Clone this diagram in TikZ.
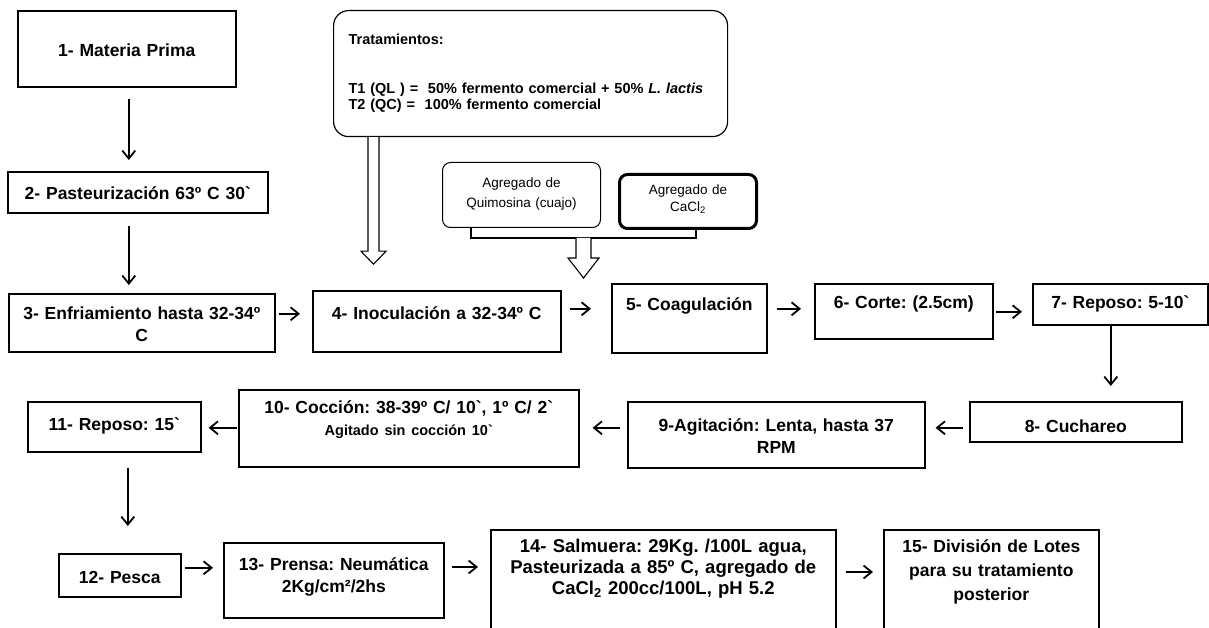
\documentclass[tikz,border=0pt]{standalone}
\usepackage{fontspec}
\setmainfont{Liberation Sans}[Ligatures=TeXOff]
\usepackage{tikz}
\usetikzlibrary{arrows.meta,calc}
\frenchspacing

\begin{document}
\begin{tikzpicture}[x=1pt,y=-1pt,
    paso/.style={draw, line width=1.6pt, inner sep=0pt, anchor=north west, align=center,
        font=\fontsize{17.5}{22}\selectfont\bfseries},
    agregado/.style={draw, rounded corners=8pt, anchor=north west, inner sep=0pt, align=center,
        font=\fontsize{13.5}{20}\selectfont},
    flecha/.style={line width=1.5pt, -{Straight Barb[length=8pt,width=13pt,line width=1.8pt]}},
    hueca/.style={draw, line width=1.1pt, fill=white}]

    \useasboundingbox (0,0) rectangle (1209,628);

    \node[paso, text width=218pt, text height=46pt, text depth=30pt] (b1) at (17,10) {1- Materia Prima};
    \node[paso, text width=260pt, text height=28pt, text depth=13pt] (b2) at (7,171) {2- Pasteurización 63º C 30`};
    \node[paso, text width=266pt, text height=26pt, text depth=32pt] (b3) at (8,293) {3- Enfriamiento hasta 32-34º\\C};
    \node[paso, text width=248pt, text height=29pt, text depth=32pt] (b4) at (312,290) {4- Inoculación a 32-34º C};
    \node[paso, text width=155pt, text height=27pt, text depth=42pt] (b5) at (611,283) {5- Coagulación};
    \node[paso, text width=178pt, text height=25pt, text depth=30pt] (b6) at (814,283) {6- Corte: (2.5cm)};
    \node[paso, text width=175pt, text height=25pt, text depth=16pt] (b7) at (1032,283) {7- Reposo: 5-10`};
    \node[paso, text width=212pt, text height=31pt, text depth=9pt] (b8) at (969,401) {8- Cuchareo};
    \node[paso, text width=297pt, text height=30pt, text depth=36pt] (b9) at (627,401) {9-Agitación: Lenta, hasta 37\\RPM};
    \node[paso, text width=340pt, text height=24pt, text depth=53pt] (b10) at (238,389)
        {10- Cocción: 38-39º C/ 10`, 1º C/ 2`\\{\fontsize{14.5}{22}\selectfont Agitado sin cocción 10`}};
    \node[paso, text width=173pt, text height=29pt, text depth=21pt] (b11) at (27,401) {11- Reposo: 15`};
    \node[paso, text width=122pt, text height=30pt, text depth=13pt] (b12) at (58,553) {12- Pesca\hspace*{14pt}};
    \node[paso, text width=220pt, text height=28pt, text depth=47pt] (b13) at (223,542) {13- Prensa: Neumática\\2Kg/cm²/2hs};
    \node[paso, text width=345pt, text height=23pt, text depth=88pt, font=\fontsize{18.5}{21}\selectfont\bfseries] (b14) at (490,529)
        {14- Salmuera: 29Kg. /100L agua,\\Pasteurizada a 85º C, agregado de\\CaCl\textsubscript{2} 200cc/100L, pH 5.2};
    \node[paso, text width=215pt, text height=23pt, text depth=88pt, font=\fontsize{17.5}{24}\selectfont\bfseries] (b15) at (883,529)
        {15- División de Lotes\\para su tratamiento\\posterior};

    \node[draw, line width=1.2pt, rounded corners=15pt, anchor=north west, inner xsep=15pt, inner ysep=0pt,
        text width=364pt, text height=34pt, text depth=92pt, align=left,
        font=\fontsize{14.5}{16}\selectfont\bfseries] (trat) at (333,10)
        {Tratamientos:\\[33pt]T1 (QL ) = \ 50\% fermento comercial + 50\% \textit{L. lactis}\\T2 (QC) = \ 100\% fermento comercial};

    \node[agregado, line width=1pt, text width=158pt, text height=25pt, text depth=40pt] (quim) at (442,162) {Agregado de\\Quimosina (cuajo)};
    \node[agregado, line width=3pt, text width=137pt, text height=20pt, text depth=34pt,
        font=\fontsize{13.5}{17}\selectfont] (cacl) at (618,173) {Agregado de\\CaCl\textsubscript{2}};

    \draw[flecha] ([shift={(2,11)}]b1.south) -- ([shift={(-9,-11)}]b2.north);
    \draw[flecha] ([shift={(-9,12)}]b2.south) -- ([shift={(-13,-8)}]b3.north);
    \draw[flecha] ([shift={(3,-9)}]b3.east) -- ([shift={(-12,-7.5)}]b4.west);
    \draw[flecha] ([shift={(8,-12.5)}]b4.east) -- ([shift={(-20,-9.5)}]b5.west);
    \draw[flecha] ([shift={(9,-9.5)}]b5.east) -- ([shift={(-13,-2.5)}]b6.west);
    \draw[flecha] ([shift={(2,0.5)}]b6.east) -- ([shift={(-10,7.5)}]b7.west);
    \draw[flecha] ([shift={(-9.5,0)}]b7.south) -- ([shift={(35,-15)}]b8.north);
    \draw[flecha] ([shift={(-6,6)}]b8.west) -- ([shift={(10,-7)}]b9.east);
    \draw[flecha] ([shift={(-7,-7)}]b9.west) -- ([shift={(13,-0.5)}]b10.east);
    \draw[flecha] ([shift={(-1,-0.5)}]b10.west) -- ([shift={(7,1)}]b11.east);
    \draw[flecha] ([shift={(13.5,15)}]b11.south) -- ([shift={(8,-27)}]b12.north);
    \draw[flecha] ([shift={(3,-7.5)}]b12.east) -- ([shift={(-10,-12.5)}]b13.west);
    \draw[flecha] ([shift={(7,25)}]b13.north east) -- ([shift={(-12,38)}]b14.north west);
    \draw[flecha] ([shift={(9,43)}]b14.north east) -- ([shift={(-10,43)}]b15.north west);

    \draw[hueca] ([xshift=35pt]trat.south west) -- ++(0,114) -- ++(-7,0) -- ++(12.5,13)
        -- ++(12.5,-13) -- ++(-7,0) -- ++(0,-114);

    \draw[line width=1.1pt] ([xshift=29pt]quim.south west) -- ++(0,10) coordinate (junta)
        -| ([xshift=78pt]cacl.south west);
    \draw[hueca] ([xshift=105pt]junta) -- ++(0,20) -- ++(-8,0) -- ++(15.5,20)
        -- ++(15.5,-20) -- ++(-8,0) -- ++(0,-20);
\end{tikzpicture}
\end{document}
